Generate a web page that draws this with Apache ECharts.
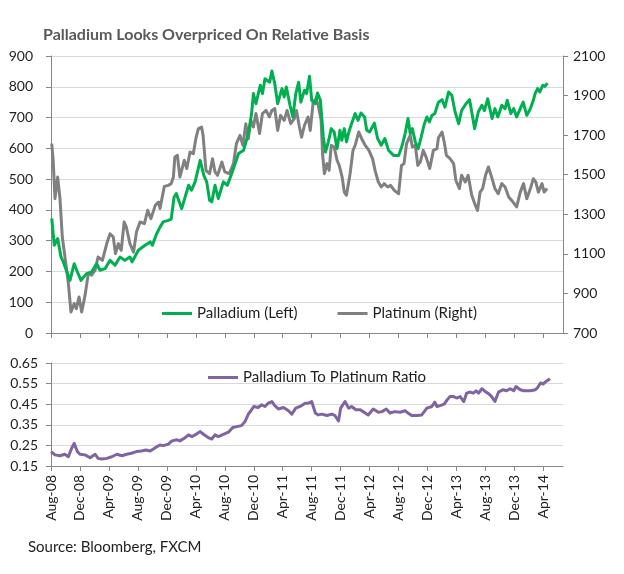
<!DOCTYPE html>
<html>
<head>
<meta charset="utf-8">
<script src="https://cdn.jsdelivr.net/npm/echarts@6/dist/echarts.min.js"></script>
<style>
html,body{margin:0;padding:0;background:#fff;}
#chart{width:624px;height:574px;}
</style>
</head>
<body>
<div id="chart"></div>
<script>
// x values are months since 1 Aug 2008
const tickLabels = ['Aug-08','Dec-08','Apr-09','Aug-09','Dec-09','Apr-10','Aug-10','Dec-10','Apr-11','Aug-11','Dec-11','Apr-12','Aug-12','Dec-12','Apr-13','Aug-13','Dec-13','Apr-14'];
const leftTicks = [0,100,200,300,400,500,600,700,800,900];
const rightTicks = [700,900,1100,1300,1500,1700,1900,2100];
const ratioTicks = [0.15,0.25,0.35,0.45,0.55,0.65];

const palladium = [[0.1,372],[0.46,285],[0.92,307],[1.38,247],[1.7,231],[2.62,171],[3.2,225],[3.55,204],[4.14,171],[4.9,193],[5.6,198],[6.3,225],[6.77,204],[7.46,209],[8.15,236],[8.84,220],[9.53,247],[10.2,236],[10.9,247],[11.2,231],[12.06,269],[13,285],[13.7,296],[14.0,285],[14.6,323],[15.05,344],[15.5,361],[16.2,366],[16.6,370],[17.0,442],[17.3,453],[18.05,404],[19,480],[19.4,464],[19.9,491],[20.6,561],[21.1,512],[21.5,491],[21.9,431],[22.2,426],[22.65,480],[23.1,437],[23.8,491],[24.35,480],[24.96,518],[25.9,583],[26.6,594],[27.25,648],[27.7,713],[27.95,778],[28.3,745],[28.9,805],[29.2,778],[29.55,826],[30.2,815],[30.5,851],[30.9,810],[31.3,745],[31.9,794],[32.2,767],[32.5,799],[33,740],[33.4,702],[33.8,778],[34.2,815],[34.5,750],[35,789],[35.3,778],[35.7,834],[36,756],[36.5,745],[36.8,780],[37.2,756],[37.6,637],[37.9,588],[38.3,621],[38.7,664],[39.1,653],[39.5,599],[39.9,659],[40.15,626],[40.5,664],[40.8,621],[41.2,659],[41.5,680],[42,713],[42.4,691],[42.8,715],[43.3,702],[43.6,659],[44,653],[44.65,682],[45.1,632],[45.6,610],[46.1,632],[46.6,594],[47.3,577],[48,577],[48.5,610],[48.9,648],[49.3,697],[49.6,648],[49.9,664],[50.3,621],[50.7,599],[51.1,635],[51.5,675],[51.9,702],[52.25,686],[52.6,707],[53,713],[53.5,750],[54,758],[54.4,734],[54.9,783],[55.35,772],[55.8,718],[56.3,680],[56.7,723],[57.3,745],[57.8,758],[58.1,718],[58.5,664],[59,718],[59.5,740],[59.85,723],[60.3,761],[60.9,697],[61.3,729],[61.7,702],[62.25,740],[62.7,729],[63,756],[63.5,713],[63.9,729],[64.3,702],[64.8,729],[65.2,750],[65.7,707],[66.2,729],[66.6,756],[66.85,778],[67.2,794],[67.5,783],[67.9,805],[68.2,801],[68.55,812]];

const platinum = [[0.1,1657],[0.3,1573],[0.55,1379],[0.92,1488],[1.24,1379],[1.56,1185],[1.93,1084],[2.4,950],[2.76,806],[3.2,849],[3.5,823],[3.87,882],[4.24,806],[4.7,890],[5.15,1000],[5.6,992],[6.08,1017],[6.5,1084],[7.1,1067],[7.7,1152],[8.15,1202],[8.6,1185],[8.9,1101],[9.3,1152],[9.7,1118],[10.1,1261],[10.4,1236],[10.9,1152],[11.4,1109],[11.8,1210],[12.3,1261],[12.9,1253],[13.35,1320],[13.8,1278],[14.4,1345],[14.85,1362],[15.05,1329],[15.65,1441],[16.2,1446],[16.6,1455],[16.9,1488],[17.1,1589],[17.45,1598],[17.8,1488],[18.4,1573],[18.75,1531],[19.2,1615],[19.65,1606],[20,1682],[20.35,1733],[20.8,1741],[21.0,1699],[21.4,1522],[21.9,1505],[22.3,1581],[22.65,1514],[23,1497],[23.6,1564],[24,1514],[24.6,1505],[25.2,1556],[25.6,1657],[26.1,1699],[26.5,1648],[26.9,1758],[27.25,1682],[27.6,1775],[27.95,1741],[28.3,1809],[28.8,1708],[29.2,1809],[29.7,1825],[30.15,1792],[30.5,1825],[30.9,1834],[31.3,1724],[31.7,1800],[32.2,1775],[32.6,1825],[33.1,1758],[33.6,1783],[33.9,1825],[34.3,1741],[34.6,1690],[35,1750],[35.5,1792],[35.8,1724],[36.2,1867],[36.6,1884],[36.9,1851],[37.3,1775],[37.5,1606],[37.75,1505],[38.1,1556],[38.4,1522],[38.7,1648],[39.1,1640],[39.5,1573],[39.8,1547],[40.2,1488],[40.5,1412],[40.8,1396],[41.3,1505],[41.7,1623],[42,1648],[42.5,1716],[42.9,1682],[43.4,1648],[43.9,1623],[44.4,1581],[44.75,1522],[45.2,1463],[45.6,1438],[46,1455],[46.5,1438],[46.9,1446],[47.4,1421],[48,1404],[48.4,1547],[48.75,1556],[49.1,1657],[49.6,1699],[49.9,1640],[50.3,1648],[50.65,1547],[51.0,1565],[51.4,1623],[51.8,1589],[52.3,1531],[52.8,1623],[53.3,1632],[53.5,1687],[54,1716],[54.3,1665],[54.6,1598],[55.1,1581],[55.6,1556],[55.9,1472],[56.4,1430],[56.7,1497],[57.2,1463],[57.6,1497],[58.1,1396],[58.6,1345],[58.9,1320],[59.25,1412],[59.6,1430],[60,1497],[60.4,1539],[60.85,1488],[61.3,1430],[61.75,1404],[62.25,1455],[62.7,1438],[63.2,1387],[63.8,1362],[64.3,1337],[64.8,1412],[65.25,1455],[65.7,1379],[66.2,1430],[66.6,1480],[66.95,1463],[67.3,1412],[67.8,1455],[68.1,1412],[68.5,1430]];

const ratio = [[0,0.220],[0.55,0.204],[1.24,0.200],[1.9,0.207],[2.4,0.195],[2.85,0.236],[3.2,0.260],[3.64,0.220],[4,0.207],[4.7,0.204],[5.4,0.190],[6.1,0.207],[6.5,0.187],[7,0.184],[7.7,0.187],[8.4,0.195],[9.1,0.207],[9.8,0.200],[10.45,0.207],[11.1,0.212],[11.8,0.220],[12.5,0.223],[13.1,0.228],[13.7,0.223],[14.4,0.239],[15.05,0.252],[15.5,0.249],[16.2,0.256],[16.7,0.272],[17.4,0.277],[17.8,0.272],[18.4,0.285],[19,0.301],[19.45,0.293],[19.9,0.301],[20.6,0.317],[21.05,0.304],[21.7,0.288],[22.2,0.281],[22.65,0.301],[23.1,0.293],[23.8,0.304],[24.5,0.314],[25.1,0.337],[25.65,0.341],[26.3,0.346],[26.8,0.366],[27.25,0.402],[27.7,0.423],[28,0.439],[28.6,0.434],[29.1,0.447],[29.55,0.439],[30,0.455],[30.5,0.463],[30.9,0.443],[31.4,0.427],[32.1,0.434],[32.8,0.418],[33.25,0.402],[33.8,0.431],[34.4,0.439],[35.1,0.455],[35.55,0.455],[36,0.463],[36.5,0.407],[36.9,0.398],[37.4,0.402],[38.1,0.395],[38.8,0.402],[39.2,0.395],[39.7,0.369],[40,0.431],[40.6,0.463],[41.1,0.431],[41.5,0.439],[42.1,0.423],[42.7,0.423],[43.1,0.414],[43.8,0.398],[44.5,0.427],[45.2,0.411],[45.7,0.414],[46.3,0.427],[46.8,0.407],[47.5,0.414],[48.2,0.411],[48.9,0.418],[49.3,0.407],[49.8,0.395],[50.5,0.395],[51.2,0.398],[51.9,0.431],[52.6,0.439],[53,0.460],[53.3,0.439],[53.7,0.443],[54.3,0.450],[54.7,0.471],[55.1,0.487],[55.6,0.487],[56,0.480],[56.5,0.487],[57,0.463],[57.4,0.504],[57.9,0.509],[58.3,0.504],[58.7,0.515],[59.05,0.504],[59.5,0.525],[59.95,0.512],[60.5,0.499],[60.85,0.487],[61.3,0.463],[61.8,0.509],[62.4,0.520],[62.9,0.515],[63.4,0.525],[63.9,0.515],[64.2,0.536],[64.8,0.520],[65.3,0.515],[66.2,0.515],[66.9,0.520],[67.2,0.531],[67.6,0.553],[67.95,0.548],[68.5,0.564],[68.9,0.574]];

const FONT = 'Lato, "Open Sans", sans-serif';
const AXIS = '#868686';
const GRID = '#d9d9d9';
const TXT = '#1f1f1f';
const tickMonths = tickLabels.map((_, i) => i * 4);
const X_MAX = 70.7;

const chart = echarts.init(document.getElementById('chart'), null, {renderer: 'canvas'});

function xAxis(gridIndex, showLabels) {
  return {
    type: 'value', gridIndex, min: 0, max: X_MAX,
    axisLine: {show: true, lineStyle: {color: AXIS, width: 1}},
    axisTick: {show: true, length: 5, customValues: tickMonths, lineStyle: {color: AXIS}},
    axisLabel: {
      show: showLabels, customValues: tickMonths, rotate: 90, margin: 9,
      fontFamily: FONT, fontSize: 14, color: TXT,
      formatter: v => tickLabels[Math.round(v / 4)] || ''
    },
    splitLine: {show: false}
  };
}

chart.setOption({
  animation: false,
  textStyle: {fontFamily: FONT},
  title: [
    {text: 'Palladium Looks Overpriced On Relative Basis', left: 43, top: 27, padding: 0,
     textStyle: {fontFamily: FONT, fontSize: 16, fontWeight: 'bold', color: '#595959'}},
    {text: 'Source: Bloomberg, FXCM', left: 28, top: 540, padding: 0,
     textStyle: {fontFamily: FONT, fontSize: 15, fontWeight: 'normal', color: TXT}}
  ],
  legend: [
    {data: [{name: 'Palladium (Left)', icon: 'rect'}, {name: 'Platinum (Right)', icon: 'rect'}],
     left: 162, top: 306, padding: 0, itemWidth: 30, itemHeight: 3, itemGap: 40,
     textStyle: {fontFamily: FONT, fontSize: 15, color: TXT}},
    {data: [{name: 'Palladium To Platinum Ratio', icon: 'rect'}],
     left: 208, top: 370, padding: 0, itemWidth: 30, itemHeight: 3,
     textStyle: {fontFamily: FONT, fontSize: 15, color: TXT}}
  ],
  grid: [
    {left: 51, right: 61, top: 56, height: 277},
    {left: 51, right: 61, top: 363, height: 103}
  ],
  xAxis: [xAxis(0, false), xAxis(1, true)],
  yAxis: [
    {type: 'value', gridIndex: 0, min: leftTicks[0], max: leftTicks[leftTicks.length - 1], interval: 100,
     axisLine: {show: true, lineStyle: {color: AXIS}},
     axisTick: {show: true, length: 5, lineStyle: {color: AXIS}},
     axisLabel: {margin: 18, fontFamily: FONT, fontSize: 14, color: TXT, formatter: v => String(v)},
     splitLine: {show: true, lineStyle: {color: GRID, width: 1}}},
    {type: 'value', gridIndex: 0, position: 'right', min: rightTicks[0], max: rightTicks[rightTicks.length - 1], interval: 200,
     axisLine: {show: true, lineStyle: {color: AXIS}},
     axisTick: {show: true, length: 5, lineStyle: {color: AXIS}},
     axisLabel: {margin: 10, fontFamily: FONT, fontSize: 14, color: TXT, formatter: v => String(v)},
     splitLine: {show: false}},
    {type: 'value', gridIndex: 1, min: ratioTicks[0], max: ratioTicks[ratioTicks.length - 1], interval: 0.1,
     axisLine: {show: true, lineStyle: {color: AXIS}},
     axisTick: {show: true, length: 5, lineStyle: {color: AXIS}},
     axisLabel: {margin: 13, fontFamily: FONT, fontSize: 14, color: TXT, formatter: v => v.toFixed(2)},
     splitLine: {show: true, lineStyle: {color: GRID, width: 1}}}
  ],
  series: [
    {name: 'Platinum (Right)', type: 'line', xAxisIndex: 0, yAxisIndex: 1, data: platinum,
     showSymbol: false, symbol: 'none', color: '#808080', lineStyle: {width: 3, color: '#808080', join: 'round'}, z: 2},
    {name: 'Palladium (Left)', type: 'line', xAxisIndex: 0, yAxisIndex: 0, data: palladium,
     showSymbol: false, symbol: 'none', color: '#00B050', lineStyle: {width: 3, color: '#00B050', join: 'round'}, z: 3},
    {name: 'Palladium To Platinum Ratio', type: 'line', xAxisIndex: 1, yAxisIndex: 2, data: ratio,
     showSymbol: false, symbol: 'none', color: '#8064A2', lineStyle: {width: 3, color: '#8064A2', join: 'round'}}
  ]
});
</script>
</body>
</html>
